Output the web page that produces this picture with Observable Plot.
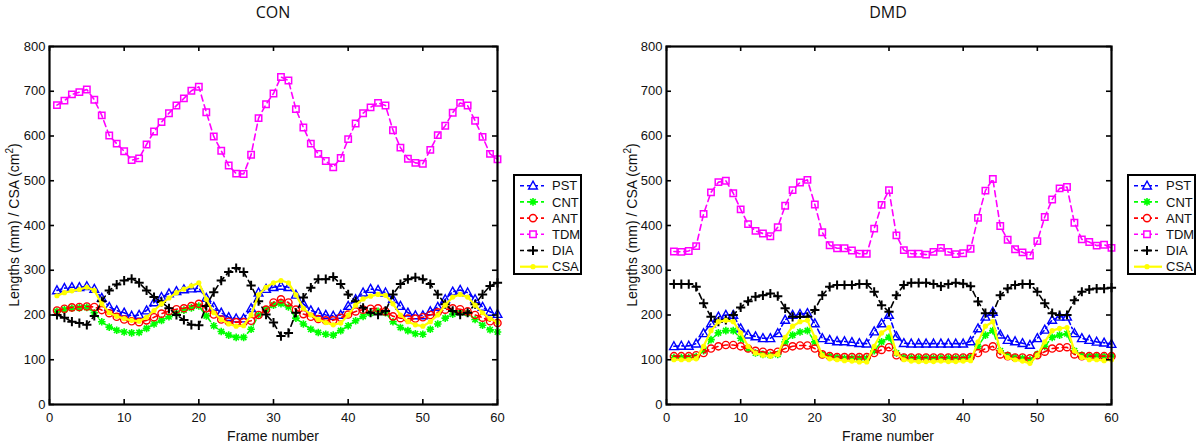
<!DOCTYPE html>
<html><head><meta charset="utf-8">
<script src="https://cdn.jsdelivr.net/npm/d3@7"></script>
<script src="https://cdn.jsdelivr.net/npm/@observablehq/plot@0.6"></script>
<style>
html,body{margin:0;padding:0;background:#fff;}
#root{position:relative;width:1199px;height:444px;overflow:hidden;background:#fff;font-family:"Liberation Sans",Arial,sans-serif;color:#111;}
.abs{position:absolute;}
.title{font-family:"Open Sans",sans-serif;font-size:16px;line-height:22px;height:22px;text-align:center;width:200px;}
.xlab{font-size:14px;line-height:16px;width:200px;text-align:center;}
.ylab{font-size:14px;line-height:18px;height:18px;width:300px;text-align:center;transform:rotate(-90deg);white-space:nowrap;}
.ylab sup{font-size:10px;line-height:0;}
</style></head><body><div id="root"></div>
<script>
// ---------- data ----------
const SERIES = ["PST","CNT","ANT","TDM","DIA","CSA"];
const X_TICKS = [0,10,20,30,40,50,60];
const Y_TICKS = [0,100,200,300,400,500,600,700,800];

const CON_PST = [255,260,262,262,264,258,238,218,210,205,198,200,210,228,240,248,253,257,259,260,238,218,205,195,192,192,215,250,258,262,265,262,245,225,210,205,200,198,200,220,235,250,258,256,250,236,220,205,199,199,208,218,235,252,256,250,235,218,207,202];
const CON_CNT = [208,212,215,216,217,205,185,173,166,162,160,161,170,180,188,196,204,211,216,220,198,176,163,155,150,150,168,200,212,222,225,218,193,180,168,161,157,155,165,176,187,197,204,208,205,185,172,165,158,157,168,180,193,202,205,204,190,177,167,162];
const CON_ANT = [210,214,217,218,219,218,211,204,196,190,186,184,188,195,203,209,213,215,220,225,215,201,190,185,184,184,187,200,212,228,235,228,212,202,196,191,188,188,194,201,208,212,214,215,208,197,193,192,192,195,200,206,212,215,213,208,200,194,186,182];
const CON_TDM = [669,679,693,698,704,681,646,601,583,566,546,550,581,610,631,651,668,684,701,710,653,599,567,534,516,515,558,640,671,695,732,724,660,619,583,560,544,530,551,593,628,651,664,674,668,613,574,549,540,538,569,602,623,652,674,668,634,598,560,548];
const CON_DIA = [200,194,185,182,178,198,231,255,268,277,281,272,255,240,229,215,200,189,178,177,220,251,277,296,305,296,266,231,201,183,153,160,205,239,261,280,280,285,269,246,231,216,205,201,209,246,269,280,284,280,269,246,224,209,201,205,224,246,265,272];
const CON_CSA = [243,250,254,257,262,255,225,205,197,192,188,186,195,210,225,238,250,258,265,272,235,205,190,180,175,176,200,245,262,272,277,272,245,215,200,190,183,178,182,200,222,236,242,246,244,225,200,185,178,175,185,200,222,240,246,240,222,205,192,183];

const DMD_PST = [130,131,131,136,159,181,196,200,200,170,156,152,148,148,159,189,200,202,204,181,148,144,141,141,139,137,136,163,181,200,152,137,136,136,136,136,136,136,136,136,141,170,196,207,156,144,141,137,133,148,167,189,196,196,159,148,144,140,138,135];
const DMD_CNT = [105,105,105,107,120,145,160,165,165,148,125,115,112,110,112,140,155,162,165,140,112,108,105,103,103,103,103,120,140,150,115,105,104,104,104,103,104,104,103,104,105,130,155,165,120,110,105,103,100,112,130,150,155,158,120,110,108,108,107,108];
const DMD_ANT = [108,108,108,110,115,125,130,133,133,130,125,120,118,115,118,125,130,132,132,125,112,108,106,106,106,106,106,115,122,128,110,105,105,105,105,105,105,105,105,105,106,115,125,130,112,108,105,105,103,110,118,125,127,128,112,108,108,108,108,108];
const DMD_TDM = [342,341,343,354,426,474,497,500,472,436,403,388,382,376,396,444,479,496,502,447,385,356,349,349,344,337,337,393,446,479,378,345,337,337,335,341,350,341,336,338,348,417,478,504,399,368,347,340,333,365,419,458,483,486,406,369,363,355,357,350];
const DMD_DIA = [269,269,269,263,226,196,185,189,200,217,231,241,244,248,242,215,196,196,196,211,244,263,267,267,267,269,269,252,222,207,244,267,272,272,272,269,264,269,272,270,264,230,204,204,244,259,267,269,269,252,226,204,200,200,233,252,257,259,259,261];
const DMD_CSA = [100,100,100,102,130,165,185,188,185,160,130,115,110,108,112,150,175,185,188,150,110,102,100,98,97,95,95,130,160,172,115,100,97,96,96,96,97,96,96,97,98,140,175,185,120,105,100,97,92,110,140,165,170,172,120,105,100,100,98,100];

// ---------- symbols ----------
const rad = s => Math.sqrt(s / Math.PI);
const symTri = {draw(c, s){const r = rad(s); c.moveTo(0,-r); c.lineTo(r*0.95, r*0.72); c.lineTo(-r*0.95, r*0.72); c.closePath();}};
const symSq = {draw(c, s){const r = rad(s); c.moveTo(-r,-r); c.lineTo(r,-r); c.lineTo(r,r); c.lineTo(-r,r); c.closePath();}};
const symCirc = {draw(c, s){const r = rad(s); c.moveTo(r,0); c.arc(0,0,r,0,2*Math.PI);}};
const symPlus = {draw(c, s){const r = rad(s); c.moveTo(-r,0); c.lineTo(r,0); c.moveTo(0,-r); c.lineTo(0,r);}};
const symAst = {draw(c, s){const r = rad(s), d = r*0.72; c.moveTo(-r,0); c.lineTo(r,0); c.moveTo(0,-r); c.lineTo(0,r); c.moveTo(-d,-d); c.lineTo(d,d); c.moveTo(-d,d); c.lineTo(d,-d);}};

const STYLE = {
  PST: {color:"#0000ff", dash:"5,3,1.5,3", lw:1.6, symbol:symTri, r:4.6, fill:"none", stroke:"#0000ff", sw:1.4},
  CNT: {color:"#00ff00", dash:"6,4", lw:1.6, symbol:symAst, r:3.8, fill:"none", stroke:"#00ff00", sw:1.6},
  ANT: {color:"#ff0000", dash:"6,4", lw:1.6, symbol:symCirc, r:3.6, fill:"none", stroke:"#ff0000", sw:1.4},
  TDM: {color:"#ff00ff", dash:"6,4", lw:1.6, symbol:symSq, r:3.2, fill:"none", stroke:"#ff00ff", sw:1.5},
  DIA: {color:"#000000", dash:"6,4", lw:1.6, symbol:symPlus, r:4.6, fill:"none", stroke:"#000000", sw:2},
  CSA: {color:"#ffff00", dash:null, lw:2.2, symbol:symCirc, r:2.6, fill:"#ffff00", stroke:"none", sw:0}
};

const root = document.getElementById("root");

function panel(data, {left, width, marginLeft, marginRight}) {
  const marginTop = 46, marginBottom = 40, height = 444;
  const ph = height - marginTop - marginBottom;
  const pw = width - marginLeft - marginRight;
  const marks = [];
  SERIES.forEach(name => {
    const vals = data[name];
    const rows = vals.map((v, i) => ({frame: i + 1, value: v}));
    const st = STYLE[name];
    marks.push(Plot.line(rows, {x:"frame", y:"value", stroke:st.color, strokeWidth:st.lw, strokeDasharray:st.dash || undefined}));
    marks.push(Plot.dot(rows, {x:"frame", y:"value", symbol:st.symbol, r:st.r, fill:st.fill, stroke:st.stroke, strokeWidth:st.sw}));
  });
  marks.push(Plot.tickX(X_TICKS, {x: d => d, insetTop: ph - 5, stroke:"black", strokeWidth:1.6}));
  marks.push(Plot.tickX(X_TICKS, {x: d => d, insetBottom: ph - 5, stroke:"black", strokeWidth:1.6}));
  marks.push(Plot.tickY(Y_TICKS, {y: d => d, insetRight: pw - 5, stroke:"black", strokeWidth:1.6}));
  marks.push(Plot.tickY(Y_TICKS, {y: d => d, insetLeft: pw - 5, stroke:"black", strokeWidth:1.6}));
  marks.push(Plot.frame({stroke:"black", strokeWidth:2.2}));
  const svg = Plot.plot({
    width, height, marginLeft, marginRight, marginTop, marginBottom,
    style: {fontFamily:"'Liberation Sans', Arial, sans-serif", fontSize:"13px", color:"#111", background:"transparent", overflow:"visible"},
    x: {domain:[0,60], ticks:X_TICKS, tickSize:0, tickPadding:8, label:null, tickFormat: d => String(d)},
    y: {domain:[0,800], ticks:Y_TICKS, tickSize:0, tickPadding:4, label:null, tickFormat: d => String(d)},
    marks
  });
  svg.style.position = "absolute";
  svg.style.left = left + "px";
  svg.style.top = "0px";
  root.appendChild(svg);
}

function legend(left, top) {
  const svg = d3.create("svg").attr("width", 70).attr("height", 102)
    .style("position","absolute").style("left", left + "px").style("top", top + "px");
  svg.append("rect").attr("x",1).attr("y",1).attr("width",67).attr("height",99)
    .attr("fill","white").attr("stroke","black").attr("stroke-width",2);
  SERIES.forEach((name, i) => {
    const st = STYLE[name];
    const y = 11.7 + i * 16.2;
    svg.append("line").attr("x1",7).attr("x2", name === "CSA" ? 35 : 31).attr("y1",y).attr("y2",y)
      .attr("stroke", st.color).attr("stroke-width", st.lw).attr("stroke-dasharray", st.dash ? "4,3" : null);
    svg.append("path").attr("transform", `translate(20,${y})`)
      .attr("d", d3.symbol(st.symbol, Math.PI * st.r * st.r)())
      .attr("fill", st.fill === "none" ? "white" : st.fill).attr("stroke", st.stroke).attr("stroke-width", st.sw);
    svg.append("text").attr("x", 39).attr("y", y).attr("dy","0.36em")
      .attr("font-family","'Liberation Sans', Arial, sans-serif").attr("font-size",13).attr("fill","#111").text(name);
  });
  root.appendChild(svg.node());
}

function addDiv(cls, html, left, top) {
  const d = document.createElement("div");
  d.className = "abs " + cls;
  d.innerHTML = html;
  d.style.left = left + "px";
  d.style.top = top + "px";
  root.appendChild(d);
}

const CON = {PST:CON_PST, CNT:CON_CNT, ANT:CON_ANT, TDM:CON_TDM, DIA:CON_DIA, CSA:CON_CSA};
const DMD = {PST:DMD_PST, CNT:DMD_CNT, ANT:DMD_ANT, TDM:DMD_TDM, DIA:DMD_DIA, CSA:DMD_CSA};

panel(CON, {left:0, width:600, marginLeft:49, marginRight:103});
panel(DMD, {left:600, width:599, marginLeft:66, marginRight:88});
legend(513, 174);
legend(1127, 174);

addDiv("title", "CON", 173, 1);
addDiv("title", "DMD", 788, 1);
addDiv("xlab", "Frame number", 173, 428);
addDiv("xlab", "Frame number", 788, 428);
addDiv("ylab", "Lengths (mm) / CSA (cm<sup>2</sup>)", -136, 216);
addDiv("ylab", "Lengths (mm) / CSA (cm<sup>2</sup>)", 482, 216);
</script></body></html>
